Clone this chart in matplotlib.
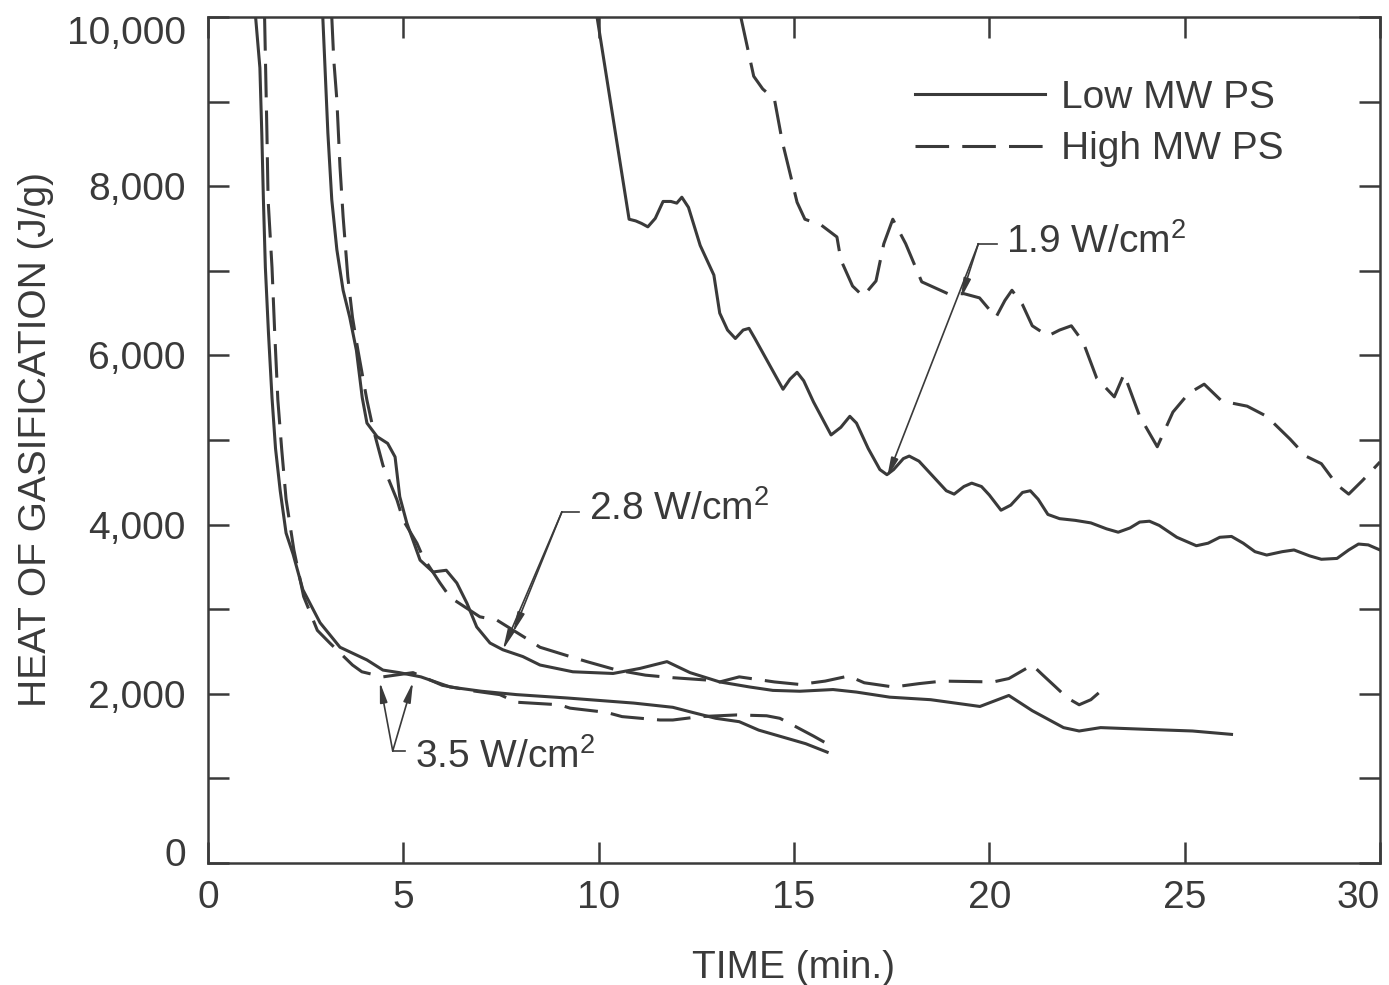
import numpy as np
import matplotlib
matplotlib.use('Agg')
import matplotlib.pyplot as plt
from matplotlib.transforms import ScaledTranslation

plt.rcParams['font.family'] = ['Liberation Sans', 'DejaVu Sans']
plt.rcParams['mathtext.fontset'] = 'custom'
plt.rcParams['mathtext.rm'] = 'Liberation Sans'

INK = '#3a3a3a'

# 3.5 W/cm2, low MW (solid)
lo35_t = [1.22, 1.33, 1.38, 1.42, 1.47, 1.55, 1.64, 1.73, 1.85, 2.0, 2.18, 2.43, 2.87, 3.38,
          4.07, 4.48, 4.9, 5.45, 6.2, 7.0, 7.9, 9.2, 10.9, 11.9, 12.4, 13.0, 13.6, 14.1,
          14.7, 15.3, 15.85]
lo35_v = [10000, 9400, 8600, 7840, 7040, 6260, 5500, 4900, 4400, 3900, 3650, 3230, 2840, 2550,
          2400, 2280, 2250, 2200, 2080, 2030, 1990, 1950, 1890, 1840, 1780, 1710, 1670, 1570,
          1490, 1410, 1310]

# 3.5 W/cm2, high MW (dashed)
hi35_t = [1.45, 1.51, 1.54, 1.64, 1.71, 1.79, 1.89, 2.0, 2.2, 2.45, 2.8, 3.12, 3.7, 3.94,
          4.48, 5.25, 6.0, 6.7, 7.47, 7.9, 9.0, 9.27, 10.2, 10.6, 11.57, 11.9, 12.6, 13.54,
          14.3, 14.64, 14.97, 15.5, 16.0]
hi35_v = [10000, 8630, 7840, 7040, 6260, 5470, 4880, 4300, 3700, 3150, 2750, 2600, 2340, 2260,
          2200, 2250, 2100, 2040, 1990, 1900, 1870, 1830, 1780, 1730, 1690, 1690, 1730, 1750,
          1740, 1710, 1630, 1500, 1370]

# 2.8 W/cm2, low MW (solid)
lo28_t = [2.94, 3.07, 3.17, 3.3, 3.46, 3.63, 3.8, 3.95, 4.07, 4.33, 4.6, 4.79, 4.91, 5.09,
          5.43, 5.76, 6.1, 6.37, 6.63, 6.88, 7.22, 7.55, 8.06, 8.5, 9.34, 10.37, 11.06, 11.75,
          12.34, 13.1, 13.87, 14.46, 15.15, 16.0, 16.6, 17.45, 18.5, 19.76, 20.5, 21.1, 21.9,
          22.3, 22.85, 24.0, 25.2, 26.2]
lo28_v = [10000, 8630, 7840, 7250, 6770, 6450, 6060, 5500, 5200, 5040, 4960, 4800, 4330, 4020,
          3580, 3440, 3460, 3310, 3070, 2790, 2600, 2520, 2440, 2340, 2260, 2240, 2300, 2380,
          2250, 2140, 2080, 2040, 2030, 2050, 2020, 1960, 1930, 1850, 1980, 1800, 1600,
          1560, 1600, 1580, 1560, 1520]

# 2.8 W/cm2, high MW (dashed)
hi28_t = [3.17, 3.22, 3.3, 3.38, 3.46, 3.58, 3.7, 3.84, 4.07, 4.22, 4.48, 4.84, 5.0, 5.35,
          5.5, 5.94, 6.2, 6.96, 7.4, 8.2, 8.5, 9.27, 9.7, 10.47, 11.2, 11.9, 12.85, 13.1,
          13.6, 14.5, 15.15, 15.8, 16.4, 16.8, 17.55, 18.2, 18.8, 20.1, 20.5, 21.1, 21.35,
          21.7, 22.0, 22.3, 22.6, 22.8]
hi28_v = [10000, 9500, 9020, 8230, 7640, 6930, 6450, 6060, 5470, 5150, 4700, 4290, 4050, 3780,
          3620, 3310, 3140, 2910, 2870, 2640, 2550, 2440, 2380, 2280, 2220, 2190, 2160, 2140,
          2200, 2140, 2110, 2150, 2210, 2130, 2080, 2120, 2150, 2140, 2180, 2340, 2230,
          2080, 1950, 1870, 1930, 2010]

# 1.9 W/cm2, low MW (solid)
lo19_t = [9.96, 10.78, 10.95, 11.1, 11.26, 11.45, 11.65, 11.85, 12.0, 12.13, 12.3, 12.6,
          12.95, 13.1, 13.3, 13.5, 13.7, 13.85, 14.0, 14.3, 14.72, 14.9, 15.08, 15.25, 15.5,
          15.95, 16.2, 16.43, 16.6, 16.9, 17.2, 17.38, 17.55, 17.8, 17.95, 18.2, 18.6, 18.9,
          19.1, 19.35, 19.55, 19.8, 20.0, 20.3, 20.55, 20.85, 21.05, 21.25, 21.5, 21.8, 22.2,
          22.6, 23.0, 23.3, 23.6, 23.85, 24.1, 24.35, 24.8, 25.3, 25.6, 25.9, 26.2, 26.5,
          26.8, 27.1, 27.5, 27.8, 28.2, 28.5, 28.9, 29.2, 29.45, 29.7, 30.0]
lo19_v = [10000, 7610, 7590, 7560, 7520, 7620, 7820, 7820, 7800, 7870, 7750, 7300,
          6950, 6500, 6300, 6200, 6300, 6320, 6200, 5950, 5600, 5720, 5800, 5700, 5450,
          5060, 5150, 5280, 5200, 4900, 4650, 4590, 4650, 4780, 4810, 4750, 4550, 4400,
          4360, 4450, 4490, 4450, 4350, 4170, 4230, 4380, 4400, 4300, 4120, 4070, 4050,
          4020, 3950, 3910, 3960, 4030, 4040, 3990, 3850, 3750, 3780, 3850, 3860, 3780,
          3680, 3640, 3680, 3700, 3630, 3590, 3600, 3700, 3770, 3760, 3700]

# 1.9 W/cm2, high MW (dashed)
hi19_t = [13.64, 13.97, 14.2, 14.5, 14.7, 15.08, 15.28, 15.7, 16.1, 16.2, 16.5, 16.77, 17.1,
          17.3, 17.53, 17.86, 18.27, 18.94, 19.35, 19.75, 20.17, 20.4, 20.58, 20.85, 21.1,
          21.5, 21.8, 22.1, 22.4, 22.75, 23.2, 23.45, 23.85, 24.3, 24.7, 25.1, 25.5, 25.95,
          26.6, 27.1, 27.7, 28.1, 28.5, 28.9, 29.2, 29.55, 30.0]
hi19_v = [10000, 9300, 9150, 9030, 8530, 7810, 7610, 7540, 7400, 7130, 6820, 6700, 6880,
          7320, 7610, 7320, 6870, 6730, 6730, 6680, 6450, 6650, 6770, 6600, 6350,
          6230, 6300, 6350, 6160, 5730, 5510, 5780, 5280, 4920, 5330, 5550, 5660, 5460,
          5400, 5280, 5010, 4810, 4720, 4470, 4360, 4520, 4740]

x_ticks = [0, 5, 10, 15, 20, 25, 30]
y_ticks = list(range(0, 10001, 1000))
y_labels = ['0', '', '2,000', '', '4,000', '', '6,000', '', '8,000', '', '10,000']

dash = (0, (11, 4.3))
LW = 2.2

fig = plt.figure(figsize=(13.89, 9.85), dpi=100)
ax = fig.add_axes([0.1497, 0.1239, 0.8438, 0.8588])

ax.plot(lo35_t, lo35_v, color=INK, lw=LW, label='Low MW PS')
ax.plot(hi35_t, hi35_v, color=INK, lw=LW, ls=dash, label='High MW PS')
ax.plot(lo28_t, lo28_v, color=INK, lw=LW)
ax.plot(hi28_t, hi28_v, color=INK, lw=LW, ls=dash)
ax.plot(lo19_t, lo19_v, color=INK, lw=LW)
ax.plot(hi19_t, hi19_v, color=INK, lw=LW, ls=dash)

ax.set_xlim(0, 30)
ax.set_ylim(0, 10000)
ax.set_xticks(x_ticks)
ax.set_yticks(y_ticks)
ax.set_yticklabels(y_labels)
ax.tick_params(axis='both', direction='in', length=15, width=1.8, color=INK,
               labelsize=28, labelcolor=INK, top=True, right=True)
ax.tick_params(axis='y', pad=16)
ax.tick_params(axis='x', pad=12)
for s in ax.spines.values():
    s.set_linewidth(1.8)
    s.set_color(INK)

# end labels sit inside the frame, as in the original
ylabs = ax.get_yticklabels()
ylabs[0].set_transform(ylabs[0].get_transform() + ScaledTranslation(0, 0.11, fig.dpi_scale_trans))
ylabs[-1].set_transform(ylabs[-1].get_transform() + ScaledTranslation(0, -0.13, fig.dpi_scale_trans))
ax.get_xticklabels()[-1].set_ha('right')

ax.set_xlabel('TIME (min.)', fontsize=28, color=INK, labelpad=25)
ax.set_ylabel('HEAT OF GASIFICATION (J/g)', fontsize=28, color=INK, labelpad=9)

ax.legend(loc='upper left', bbox_to_anchor=(0.603, 0.926), frameon=False, fontsize=28,
          handlelength=3.35, handletextpad=0.4, labelspacing=0.4, borderpad=0,
          borderaxespad=0, labelcolor=INK)


def arrow(tip, start):
    ax.annotate('', xy=tip, xytext=start,
                arrowprops=dict(arrowstyle='-|>,head_length=1.2,head_width=0.22', lw=1.2,
                                color=INK, shrinkA=0, shrinkB=0))


def leader(start, stub, text_x, text_y, text):
    ax.plot([start[0], stub], [start[1], start[1]], color=INK, lw=1.2)
    ax.text(text_x, text_y, text, fontsize=28, color=INK, va='center', ha='left')


sup = r'W/cm$^{\mathrm{2}}$'

# 1.9 W/cm2 label
s19 = (19.72, 7320)
leader(s19, 20.2, 20.42, 7340, '1.9 ' + sup)
arrow((17.38, np.interp(17.38, lo19_t, lo19_v) - 40), s19)
arrow((19.27, np.interp(19.27, hi19_t, hi19_v) - 60), s19)

# 2.8 W/cm2 label
s28 = (9.06, 4150)
leader(s28, 9.5, 9.75, 4180, '2.8 ' + sup)
arrow((7.55, np.interp(7.55, lo28_t, lo28_v)), s28)
arrow((7.81, np.interp(7.81, hi28_t, hi28_v) - 30), s28)

# 3.5 W/cm2 label
s35 = (4.73, 1324)
leader(s35, 5.04, 5.3, 1250, '3.5 ' + sup)
arrow((4.4, 2140), s35)
arrow((5.25, 2140), s35)

fig.savefig('out.png', dpi=100)
